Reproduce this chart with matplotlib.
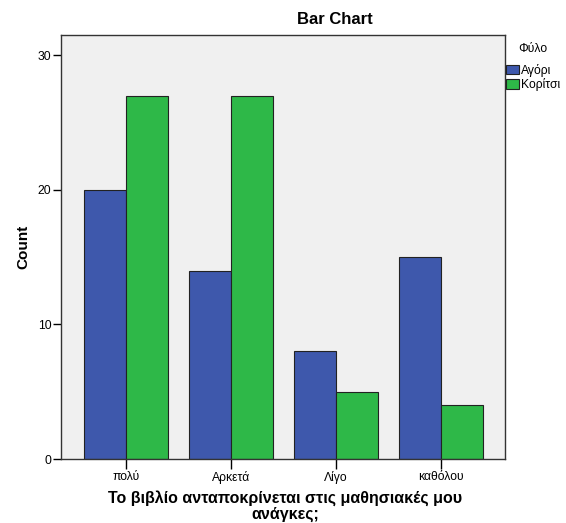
import matplotlib.pyplot as plt
import numpy as np
from matplotlib.patches import Patch

categories = ['πολύ', 'Αρκετά', 'Λίγο', 'καθόλου']
boys = [20, 14, 8, 15]
girls = [27, 27, 5, 4]
series_names = ['Αγόρι', 'Κορίτσι']

plt.rcParams['font.family'] = ['Liberation Sans', 'DejaVu Sans']

fig = plt.figure(figsize=(5.66, 5.23), dpi=100)
ax = fig.add_axes([61/566, 64/523, 444/566, 424/523])
ax.set_facecolor('#F0F0F0')

x = np.arange(len(categories))
w = 0.4
blue = '#3E58AC'
green = '#2EB848'
ax.bar(x - w/2, boys, w, color=blue, edgecolor='#222222', linewidth=0.8)
ax.bar(x + w/2, girls, w, color=green, edgecolor='#222222', linewidth=0.8)

ax.set_xlim(-0.62, 3.61)
ax.set_ylim(0, 31.5)
ax.set_xticks(x)
ax.set_xticklabels(categories, fontsize=8.7)
ax.set_yticks([0, 10, 20, 30])
ax.tick_params(axis='y', labelsize=8.7, length=6, width=1, direction='out', pad=1)
ax.tick_params(axis='x', length=7, width=1, direction='out', pad=2)
for s in ax.spines.values():
    s.set_color('#333333')
    s.set_linewidth(1)

fig.text(23/566, 1 - 247/523, 'Count', rotation=90, ha='center', va='center',
         fontsize=11, fontweight='bold')
fig.text(285/566, 1 - 506/523, 'Το βιβλίο ανταποκρίνεται στις μαθησιακές μου\nανάγκες;',
         ha='center', va='center', fontsize=11.5, fontweight='bold', linespacing=1.05)
fig.text(335/566, 1 - 20/523, 'Bar Chart', ha='center', va='center',
         fontsize=12, fontweight='bold')

handles = [Patch(facecolor=blue, edgecolor='#222222', linewidth=0.8),
           Patch(facecolor=green, edgecolor='#222222', linewidth=0.8)]
fig.text(533/566, 1 - 49/523, 'Φύλο', ha='center', va='center', fontsize=8.7)
fig.legend(handles, series_names, loc='upper left', bbox_to_anchor=(506/566, 1 - 64/523),
           frameon=False, fontsize=8.7, handlelength=1.1, handleheight=0.8,
           handletextpad=0.15, labelspacing=0.1, borderpad=0, borderaxespad=0)

fig.savefig('out.png', dpi=100)
